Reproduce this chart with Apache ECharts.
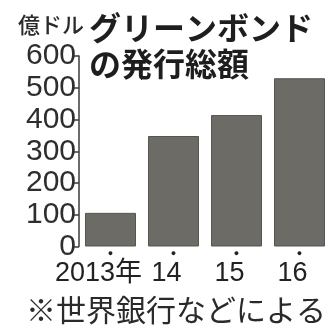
<!DOCTYPE html>
<html><head><meta charset="utf-8">
<script src="https://cdn.jsdelivr.net/npm/echarts@6/dist/echarts.min.js"></script>
<style>html,body{margin:0;padding:0;background:#fff}#c{width:331px;height:331px}</style>
</head><body><div id="c"></div>
<script>
const categories = ['2013年', '14', '15', '16'];
const values = [106, 348, 414, 530];
const yTicks = [0, 100, 200, 300, 400, 500, 600];
const titleText = 'グリーンボンド\nの発行総額';
const unitText = '億ドル';
const noteText = '※世界銀行などによる';

const chart = echarts.init(document.getElementById('c'), null, {renderer: 'canvas'});
chart.setOption({
  backgroundColor: '#ffffff',
  animation: false,
  title: [
    {text: unitText, left: 13, top: 9,
     textStyle: {fontFamily: 'Noto Sans CJK JP', fontSize: 22, fontWeight: 500, color: '#2a2a2a'}},
    {text: titleText, left: 84, top: 5,
     textStyle: {fontFamily: 'Noto Sans CJK JP', fontSize: 32, fontWeight: 'bold', color: '#1e1e1e', lineHeight: 36}},
    {text: noteText, left: 21, top: 290,
     textStyle: {fontFamily: 'Noto Sans CJK JP', fontSize: 30, fontWeight: 'normal', color: '#2a2a2a'}}
  ],
  grid: {left: 79, top: 56, width: 252, height: 190.5, containLabel: false},
  xAxis: {
    type: 'category', data: categories,
    axisLine: {show: false}, axisTick: {show: false},
    axisLabel: {
      margin: 1, interval: 0,
      formatter: (v, i) => '{d|●}\n' + (i === 0 ? '{a|' + v + '}' : '{b|' + v + '}'),
      rich: {
        d: {fontSize: 9, lineHeight: 12, color: '#222'},
        a: {fontFamily: 'Liberation Sans, Noto Sans CJK JP', fontSize: 27, lineHeight: 28, color: '#222', padding: [0, 24, 0, 0]},
        b: {fontFamily: 'Liberation Sans, Noto Sans CJK JP', fontSize: 27, lineHeight: 28, color: '#222', padding: [0, 14, 0, 0]}
      }
    }
  },
  yAxis: {
    type: 'value', min: yTicks[0], max: yTicks[yTicks.length - 1], interval: 100,
    splitLine: {show: false},
    axisLine: {show: true, lineStyle: {color: '#3a3a3a', width: 1.5}},
    axisTick: {show: true, length: 7, lineStyle: {color: '#3a3a3a', width: 1.5}},
    axisLabel: {margin: 3, fontFamily: 'Liberation Sans', fontSize: 30, color: '#2e2e2e'}
  },
  series: [{
    type: 'bar', data: values, barCategoryGap: '19%',
    itemStyle: {color: '#6d6b66', borderColor: '#57554f', borderWidth: 1}
  }]
});
</script></body></html>
